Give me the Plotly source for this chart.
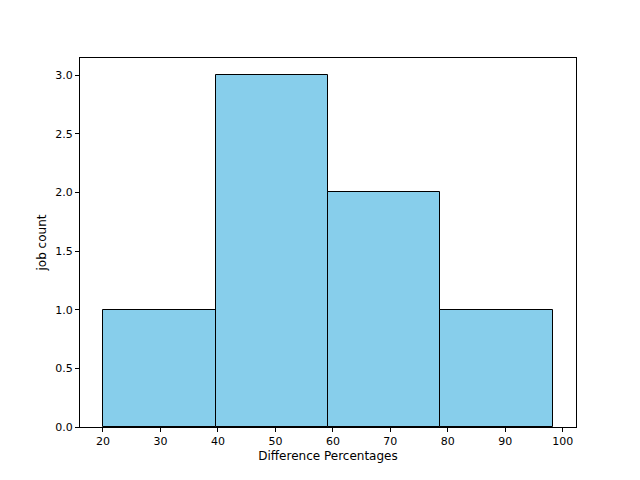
import plotly.graph_objects as go

bin_edges = [20.0, 39.6, 59.1, 78.7, 98.3]
counts = [1, 3, 2, 1]

centers = [(a + b) / 2 for a, b in zip(bin_edges[:-1], bin_edges[1:])]
widths = [b - a for a, b in zip(bin_edges[:-1], bin_edges[1:])]

fig = go.Figure(go.Bar(x=centers, y=counts, width=widths,
                       marker=dict(color="skyblue", line=dict(color="black", width=1))))
axis = dict(showgrid=False, zeroline=False, showline=True, linecolor="black", mirror=True,
            ticks="outside", ticklen=4, tickcolor="black", tickfont=dict(size=11))
fig.update_layout(
    width=640, height=480, plot_bgcolor="white", paper_bgcolor="white",
    margin=dict(l=72, r=72, t=50, b=61),
    font=dict(family="DejaVu Sans", color="black", size=11),
    xaxis=dict(axis, range=[16.0, 102.3], tickvals=[20, 30, 40, 50, 60, 70, 80, 90, 100],
               title=dict(text="Difference Percentages", font=dict(size=12), standoff=4)),
    yaxis=dict(axis, range=[0, 3.145], tickvals=[0, 0.5, 1, 1.5, 2, 2.5, 3], tickformat=".1f",
               title=dict(text="job count", font=dict(size=12), standoff=6)),
    bargap=0, showlegend=False,
)
fig.write_html("out.html")
